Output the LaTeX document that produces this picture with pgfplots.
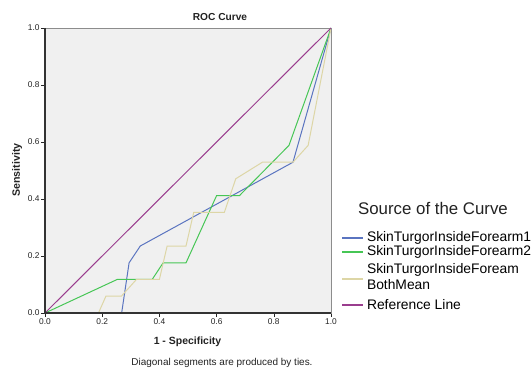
\documentclass[border=0pt]{standalone}
\usepackage{fontspec}
\setmainfont{Liberation Sans}
\usepackage{pgfplots}
\pgfplotsset{compat=1.18}
\definecolor{cblue}{HTML}{5A74C0}
\definecolor{cgreen}{HTML}{46C655}
\definecolor{cbeige}{HTML}{DDD6A6}
\definecolor{cpurple}{HTML}{9A3D8E}
\definecolor{bg}{HTML}{F0F0F0}
\definecolor{txt}{HTML}{222222}
\begin{document}
\begin{tikzpicture}[x=1bp,y=1bp]
\path[use as bounding box] (0,0) rectangle (531,372);
\begin{axis}[
  name=ax,
  at={(45bp,59bp)}, anchor=south west,
  scale only axis, width=286bp, height=285bp,
  xmin=0, xmax=1, ymin=0, ymax=1,
  axis background/.style={fill=bg},
  axis line style={draw=black!45, line width=0.8pt},
  xtick={0,0.2,0.4,0.6,0.8,1.0},
  ytick={0,0.2,0.4,0.6,0.8,1.0},
  tick align=outside, tick pos=left,
  major tick length=4bp,
  tick style={black!85, line width=0.6pt},
  ticklabel style={font=\fontsize{8.4}{9}\selectfont, text=txt, inner sep=1.2bp},
  /pgf/number format/assume math mode=true,
  /pgf/number format/.cd, fixed, fixed zerofill, precision=1, /pgfplots/.cd,
  legend style={draw=none, fill=none, at={(axis description cs:1.035,0.287)}, anchor=north west,
    font=\fontsize{13.9}{16}\selectfont, inner sep=0pt, outer sep=0pt, row sep=1.0bp,
    nodes={inner sep=0pt, text depth={}},
    /tikz/column 2/.style={column sep=0pt},
    cells={anchor=west, align=left}},
  legend image code/.code={\draw[#1] plot coordinates {(0bp,0bp) (10.5bp,0bp) (21bp,0bp)};},
]
\addlegendimage{cblue, line width=2pt}
\addlegendentry{\hspace{3bp}SkinTurgorInsideForearm1}
\addlegendimage{cgreen, line width=2pt}
\addlegendentry{\hspace{3bp}SkinTurgorInsideForearm2}
\addlegendimage{cbeige, line width=2pt}
\addlegendentry{\hspace{3bp}\rule{0pt}{14.6bp}SkinTurgorInsideFoream\\\hspace{3bp}BothMean\rule[-9bp]{0pt}{9bp}}
\addlegendimage{cpurple, line width=2pt}
\addlegendentry{\hspace{3bp}Reference Line}
\addplot[cblue, line width=1pt, forget plot] coordinates {(0,0) (0.268,0) (0.294,0.176) (0.333,0.235) (0.867,0.529) (1,1)};
\addplot[cgreen, line width=1pt, forget plot] coordinates {(0,0) (0.253,0.118) (0.375,0.118) (0.413,0.176) (0.493,0.176) (0.6,0.412) (0.68,0.412) (0.853,0.588) (1,1)};
\addplot[cbeige, line width=1pt, forget plot] coordinates {(0,0) (0.187,0) (0.213,0.059) (0.267,0.059) (0.32,0.118) (0.4,0.118) (0.427,0.235) (0.493,0.235) (0.52,0.353) (0.627,0.353) (0.667,0.471) (0.76,0.529) (0.867,0.529) (0.92,0.588) (1,1)};
\addplot[cpurple, line width=1pt, forget plot] coordinates {(0,0) (1,1)};
\end{axis}
\draw[black!80, line width=1.3pt] (ax.north west) -- (ax.south west) -- (ax.south east);
\node[font=\bfseries\fontsize{10.2}{12}\selectfont, text=txt] at (220,355.3) {ROC Curve};
\node[font=\bfseries\fontsize{10.5}{12}\selectfont, text=txt] at (187.5,30.3) {1 - Specificity};
\node[font=\bfseries\fontsize{10.7}{12}\selectfont, text=txt, rotate=90] at (17,202) {Sensitivity};
\node[font=\fontsize{16.9}{18}\selectfont, text=txt] at (433,164) {Source of the Curve};
\node[font=\fontsize{10}{11}\selectfont, text=txt] at (222,9) {Diagonal segments are produced by ties.};
\end{tikzpicture}
\end{document}
